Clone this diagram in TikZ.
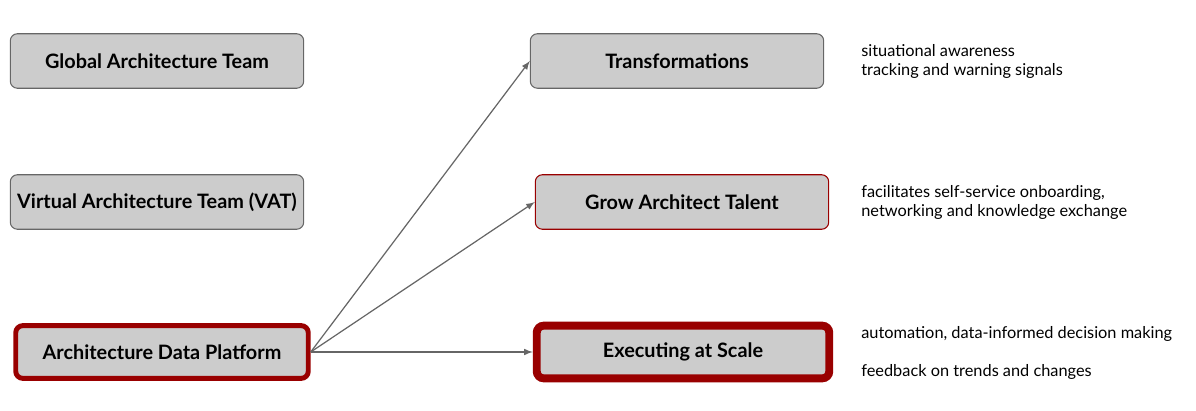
\documentclass[tikz,border=0pt]{standalone}
\usepackage{fontspec}
\setmainfont{Lato}
\usepackage{tikz}
\usetikzlibrary{arrows}
\usetikzlibrary{positioning}
\definecolor{boxgray}{HTML}{CCCCCC}
\definecolor{edgegray}{HTML}{666666}
\definecolor{darkred}{HTML}{990000}
\tikzstyle{every node}+=[inner sep=0pt]
\tikzstyle{block} = [rectangle, draw=edgegray, fill=boxgray, line width=0.6pt, font=\fontsize{11.3}{13}\selectfont\bfseries, text centered, rounded corners=4pt, minimum height=31pt, minimum width=167pt]
\tikzstyle{hot} = [draw=darkred]
\tikzstyle{line} = [draw=edgegray, line width=0.7pt, -latex]
\tikzstyle{note} = [anchor=west, align=left, font=\fontsize{9.3}{10.8}\selectfont]

\begin{document}
\begin{tikzpicture}[x=0.02cm, y=-0.02cm]
            \useasboundingbox (0,0) rectangle (1196,411);
            % Place nodes
            \node [block] (gat) at (157,61) {Global Architecture Team};
            \node [block] (vat) at (157,202) {Virtual Architecture Team (VAT)};
            \node [block, hot, line width=2.8pt, minimum width=166.5pt, minimum height=30pt] (adp) at (162,352) {Architecture Data Platform};
            \node [block] (trans) at (677,61) {Transformations};
            \node [block, hot] (grow) at (682,202) {Grow Architect Talent};
            \node [block, hot, line width=4.5pt, minimum width=166.5pt, minimum height=30pt] (exec) at (683,352) {Executing at Scale};
            \node [note] (ntrans) at (861,61) {situational awareness\\tracking and warning signals};
            \node [note] (ngrow) at (861,202) {facilitates self-service onboarding,\\networking and knowledge exchange};
            \node [note] (nexec) at (861,353) {automation, data-informed decision making\\[10.8pt]feedback on trends and changes};
            % Draw edges
            \path [line] (adp.east) -- (trans.west);
            \path [line] (adp.east) -- (grow.west);
            \path [line] (adp.east) -- (exec.west);
          \end{tikzpicture}
\end{document}
